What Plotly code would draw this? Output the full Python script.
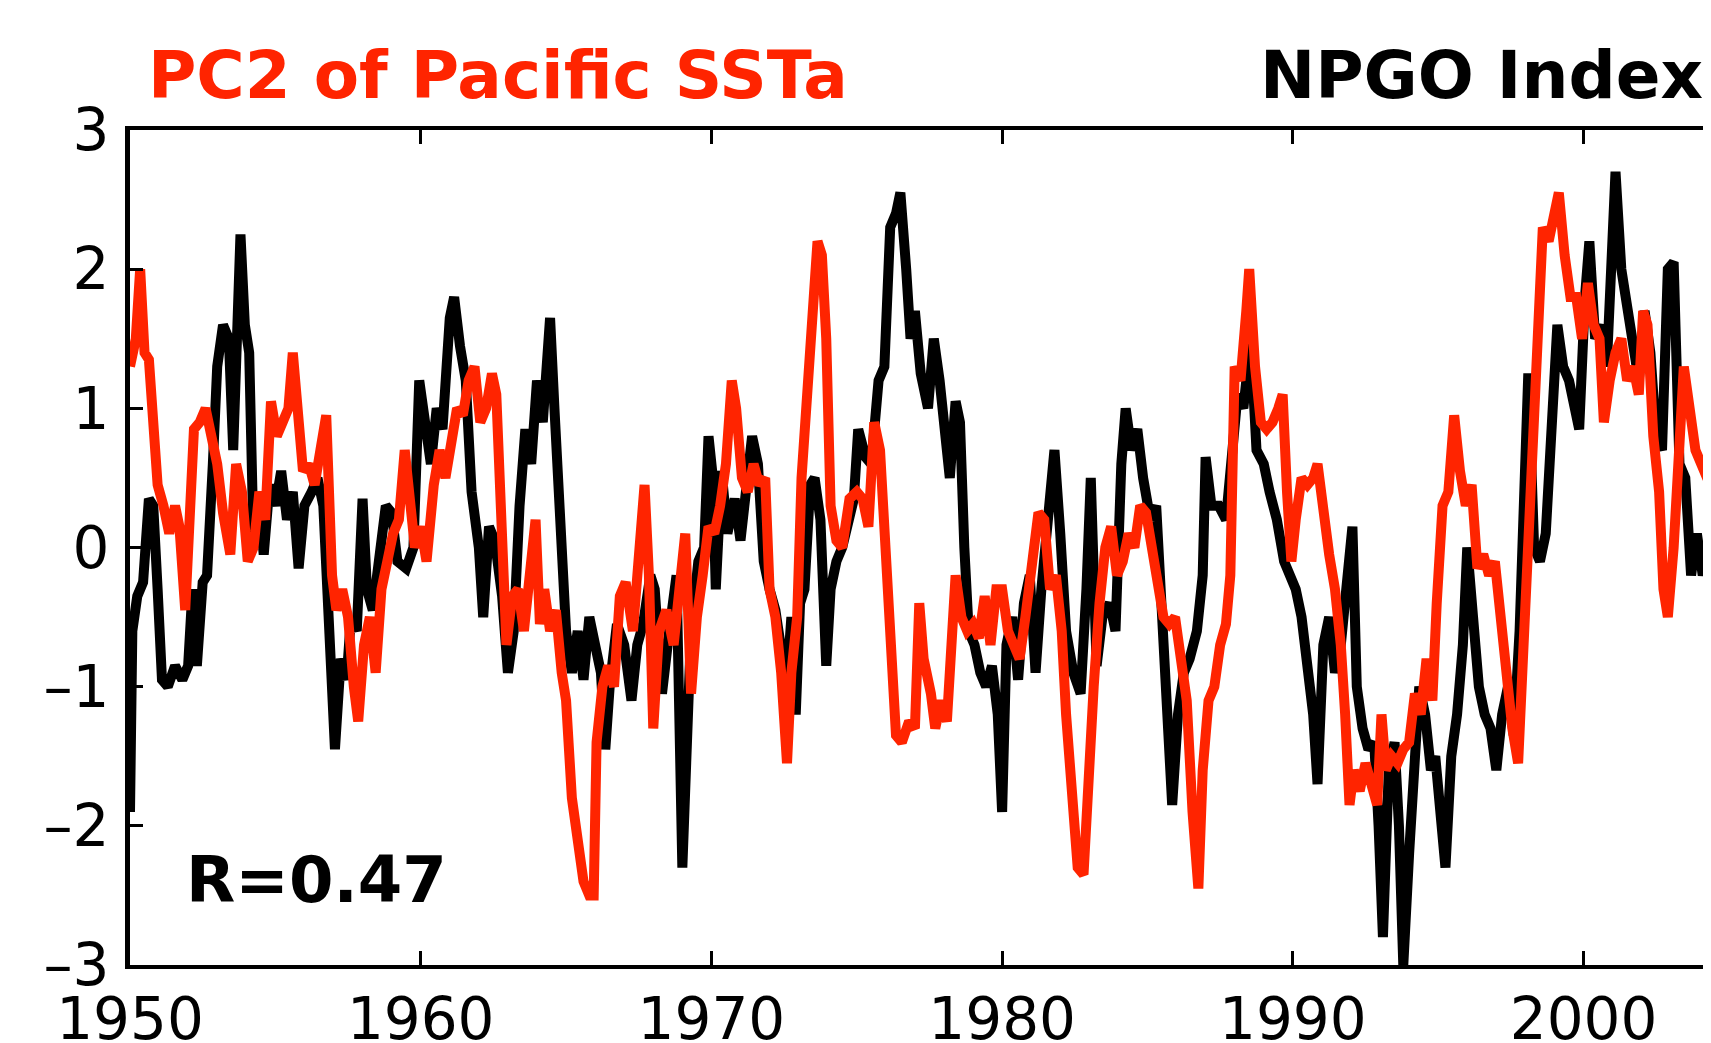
import plotly.graph_objects as go

# NPGO index (black)
npgo_years = [1950.00, 1950.08, 1950.25, 1950.45, 1950.65, 1950.8, 1950.95, 1951.1, 1951.3, 1951.55,
              1951.8, 1952.0, 1952.15, 1952.3, 1952.5, 1952.65, 1952.85, 1953.0, 1953.2, 1953.4,
              1953.55, 1953.7, 1953.8, 1953.95, 1954.1, 1954.25, 1954.45, 1954.6, 1954.8, 1955.0,
              1955.2, 1955.4, 1955.6, 1955.8, 1956.0, 1956.25, 1956.45, 1956.65, 1956.85, 1957.05,
              1957.25, 1957.45, 1957.6, 1957.8, 1958.0, 1958.15, 1958.35, 1958.6, 1958.8, 1959.0,
              1959.2, 1959.5, 1959.75, 1959.95, 1960.15, 1960.35, 1960.55, 1960.75, 1961.0, 1961.15,
              1961.35, 1961.55, 1961.75, 1962.0, 1962.15, 1962.35, 1962.55, 1962.8, 1963.0, 1963.2,
              1963.4, 1963.6, 1963.8, 1964.0, 1964.2, 1964.45, 1964.6, 1964.8, 1965.0, 1965.2,
              1965.4, 1965.6, 1965.8, 1966.0, 1966.2, 1966.35, 1966.5, 1966.75, 1967.0, 1967.25,
              1967.45, 1967.65, 1967.9, 1968.05, 1968.3, 1968.55, 1968.8, 1969.0, 1969.15, 1969.3,
              1969.55, 1969.75, 1969.9, 1970.05, 1970.15, 1970.35, 1970.55, 1970.8, 1971.0, 1971.2,
              1971.4, 1971.6, 1971.8, 1972.0, 1972.2, 1972.45, 1972.6, 1972.75, 1972.9, 1973.05,
              1973.2, 1973.4, 1973.55, 1973.75, 1973.95, 1974.1, 1974.3, 1974.5, 1974.7, 1974.9,
              1975.05, 1975.3, 1975.5, 1975.75, 1975.95, 1976.15, 1976.35, 1976.5, 1976.7, 1976.85,
              1977.0, 1977.2, 1977.45, 1977.65, 1977.85, 1978.0, 1978.2, 1978.4, 1978.55, 1978.7,
              1978.85, 1979.05, 1979.25, 1979.45, 1979.65, 1979.85, 1980.0, 1980.15, 1980.35, 1980.55,
              1980.75, 1980.95, 1981.15, 1981.35, 1981.55, 1981.8, 1982.0, 1982.2, 1982.45, 1982.7,
              1982.9, 1983.05, 1983.25, 1983.45, 1983.7, 1983.9, 1984.1, 1984.25, 1984.45, 1984.65,
              1984.85, 1985.1, 1985.3, 1985.5, 1985.7, 1985.85, 1986.05, 1986.25, 1986.45, 1986.7,
              1986.9, 1987.0, 1987.2, 1987.45, 1987.7, 1987.9, 1988.1, 1988.3, 1988.55, 1988.75,
              1989.0, 1989.2, 1989.45, 1989.7, 1989.9, 1990.1, 1990.3, 1990.5, 1990.7, 1990.85,
              1991.05, 1991.25, 1991.45, 1991.65, 1991.85, 1992.05, 1992.2, 1992.4, 1992.6, 1992.8,
              1992.95, 1993.1, 1993.3, 1993.5, 1993.65, 1993.8, 1994.0, 1994.2, 1994.35, 1994.55,
              1994.75, 1994.9, 1995.1, 1995.25, 1995.45, 1995.65, 1995.85, 1996.0, 1996.2, 1996.4,
              1996.6, 1996.8, 1997.0, 1997.2, 1997.4, 1997.6, 1997.8, 1997.95, 1998.1, 1998.3,
              1998.5, 1998.7, 1998.9, 1999.1, 1999.3, 1999.5, 1999.7, 1999.85, 2000.05, 2000.2,
              2000.4, 2000.6, 2000.8, 2001.0, 2001.1, 2001.3, 2001.5, 2001.7, 2001.9, 2002.1,
              2002.3, 2002.5, 2002.7, 2002.9, 2003.1, 2003.3, 2003.5, 2003.7, 2003.9, 2004.1,
              2004.3, 2004.5, 2004.75]
npgo_values = [-1.9, -0.6, -0.35, -0.25, 0.35, 0.3, -0.3, -0.95, -1.0, -0.85,
               -0.95, -0.85, -0.3, -0.85, -0.25, -0.2, 0.6, 1.3, 1.6, 1.5,
               0.7, 1.5, 2.25, 1.6, 1.4, 0.05, 0.3, -0.05, 0.45, 0.3,
               0.55, 0.2, 0.4, -0.15, 0.3, 0.4, 0.5, 0.3, -0.5, -1.45,
               -0.8, -0.95, -0.5, -0.6, 0.35, -0.3, -0.45, -0.1, 0.3, 0.25,
               -0.1, -0.15, 0.0, 1.2, 0.85, 0.6, 1.0, 0.85, 1.65, 1.8,
               1.45, 1.2, 0.4, 0.0, -0.5, 0.15, 0.05, -0.35, -0.9, -0.6,
               0.3, 0.85, 0.6, 1.2, 0.9, 1.65, 1.0, 0.0, -0.6, -0.9,
               -0.6, -0.95, -0.5, -0.7, -0.9, -1.45, -1.0, -0.55, -0.7, -1.1,
               -0.7, -0.55, -0.2, -0.3, -1.05, -0.6, -0.2, -2.3, -1.6, -0.6,
               -0.1, 0.0, 0.8, 0.5, -0.3, 0.55, 0.1, 0.35, 0.05, 0.45,
               0.8, 0.6, -0.1, -0.3, -0.45, -0.8, -0.95, -0.5, -1.2, -0.4,
               -0.3, 0.45, 0.5, 0.2, -0.85, -0.3, -0.1, 0.0, 0.2, 0.35,
               0.85, 0.65, 0.6, 1.2, 1.3, 2.3, 2.4, 2.55, 2.0, 1.5,
               1.7, 1.25, 1.0, 1.5, 1.2, 0.9, 0.5, 1.05, 0.9, 0.0,
               -0.6, -0.7, -0.9, -1.0, -0.85, -1.2, -1.9, -0.7, -0.5, -0.95,
               -0.4, -0.2, -0.9, -0.3, 0.2, 0.7, 0.1, -0.6, -0.9, -1.05,
               -0.3, 0.5, -0.85, -0.5, -0.4, -0.6, 0.6, 1.0, 0.7, 0.85,
               0.5, 0.2, 0.3, -0.6, -1.5, -1.85, -1.2, -0.9, -0.8, -0.6,
               -0.2, 0.65, 0.3, 0.3, 0.2, 0.6, 1.1, 1.0, 1.5, 0.7,
               0.6, 0.4, 0.2, -0.1, -0.2, -0.3, -0.5, -0.8, -1.2, -1.7,
               -0.7, -0.5, -0.9, -0.7, -0.3, 0.15, -1.0, -1.3, -1.45, -1.4,
               -2.0, -2.8, -1.6, -1.4, -2.0, -3.0, -2.2, -1.5, -1.0, -1.2,
               -1.6, -1.5, -2.1, -2.3, -1.5, -1.2, -0.7, 0.0, -0.5, -1.0,
               -1.2, -1.3, -1.6, -1.2, -1.0, -1.35, -0.6, 0.2, 1.25, 0.0,
               -0.1, 0.1, 1.0, 1.6, 1.3, 1.2, 1.0, 0.85, 1.8, 2.2,
               1.5, 1.6, 1.3, 2.2, 2.7, 2.0, 1.7, 1.4, 1.2, 1.7,
               1.4, 0.8, 0.7, 2.0, 2.05, 0.6, 0.5, -0.2, 0.1, -0.2,
               0.0, -0.1, -0.05]

# PC2 of Pacific SSTa (red)
pc2_years = [1950.0, 1950.2, 1950.35, 1950.5, 1950.65, 1950.8, 1950.95, 1951.15, 1951.35, 1951.55,
             1951.7, 1951.9, 1952.05, 1952.2, 1952.4, 1952.6, 1952.8, 1953.0, 1953.2, 1953.45,
             1953.65, 1953.85, 1954.05, 1954.25, 1954.45, 1954.65, 1954.85, 1955.05, 1955.25, 1955.45,
             1955.6, 1955.75, 1955.95, 1956.15, 1956.35, 1956.55, 1956.75, 1956.95, 1957.1, 1957.3,
             1957.5, 1957.7, 1957.85, 1958.05, 1958.25, 1958.45, 1958.65, 1958.85, 1959.05, 1959.25,
             1959.45, 1959.6, 1959.8, 1960.0, 1960.2, 1960.45, 1960.65, 1960.85, 1961.05, 1961.25,
             1961.45, 1961.65, 1961.85, 1962.05, 1962.25, 1962.45, 1962.6, 1962.8, 1962.95, 1963.15,
             1963.35, 1963.55, 1963.75, 1963.95, 1964.1, 1964.25, 1964.45, 1964.65, 1964.85, 1965.0,
             1965.2, 1965.4, 1965.6, 1965.8, 1965.95, 1966.05, 1966.25, 1966.45, 1966.65, 1966.85,
             1967.05, 1967.3, 1967.5, 1967.7, 1967.85, 1968.0, 1968.2, 1968.45, 1968.7, 1968.9,
             1969.1, 1969.3, 1969.5, 1969.7, 1969.9, 1970.1, 1970.3, 1970.5, 1970.7, 1970.85,
             1971.05, 1971.25, 1971.45, 1971.65, 1971.85, 1972.0, 1972.2, 1972.4, 1972.6, 1972.75,
             1972.95, 1973.1, 1973.3, 1973.5, 1973.65, 1973.8, 1973.95, 1974.1, 1974.3, 1974.5,
             1974.75, 1975.0, 1975.2, 1975.4, 1975.6, 1975.8, 1975.95, 1976.15, 1976.35, 1976.55,
             1976.8, 1977.0, 1977.15, 1977.3, 1977.55, 1977.7, 1977.9, 1978.1, 1978.25, 1978.4,
             1978.6, 1978.8, 1979.0, 1979.2, 1979.4, 1979.6, 1979.8, 1980.0, 1980.2, 1980.4,
             1980.6, 1980.8, 1981.0, 1981.25, 1981.45, 1981.65, 1981.85, 1982.05, 1982.2, 1982.4,
             1982.6, 1982.8, 1982.95, 1983.15, 1983.35, 1983.55, 1983.75, 1983.95, 1984.15, 1984.35,
             1984.55, 1984.75, 1984.95, 1985.15, 1985.35, 1985.55, 1985.75, 1985.95, 1986.15, 1986.35,
             1986.55, 1986.75, 1986.9, 1987.1, 1987.3, 1987.5, 1987.7, 1987.85, 1988.0, 1988.2,
             1988.4, 1988.5, 1988.7, 1988.9, 1989.1, 1989.3, 1989.5, 1989.65, 1989.8, 1989.95,
             1990.1, 1990.3, 1990.5, 1990.7, 1990.85, 1991.05, 1991.25, 1991.45, 1991.65, 1991.8,
             1991.95, 1992.1, 1992.3, 1992.5, 1992.7, 1992.9, 1993.05, 1993.2, 1993.4, 1993.6,
             1993.8, 1994.0, 1994.2, 1994.4, 1994.6, 1994.8, 1994.95, 1995.15, 1995.35, 1995.55,
             1995.75, 1995.95, 1996.15, 1996.35, 1996.55, 1996.75, 1996.95, 1997.15, 1997.35, 1997.55,
             1997.75, 1997.95, 1998.1, 1998.3, 1998.5, 1998.6, 1998.8, 1999.0, 1999.15, 1999.35,
             1999.55, 1999.75, 1999.95, 2000.15, 2000.35, 2000.55, 2000.7, 2000.9, 2001.1, 2001.3,
             2001.5, 2001.7, 2001.9, 2002.05, 2002.2, 2002.4, 2002.6, 2002.75, 2002.9, 2003.1,
             2003.3, 2003.45, 2003.65, 2003.85, 2004.05, 2004.25, 2004.45, 2004.75]
pc2_values = [1.3, 1.5, 2.0, 1.4, 1.35, 0.85, 0.45, 0.3, 0.1, 0.3,
              0.15, -0.45, 0.2, 0.85, 0.9, 1.0, 0.8, 0.6, 0.25, -0.05,
              0.6, 0.4, -0.1, 0.0, 0.4, 0.2, 1.05, 0.8, 0.9, 1.0,
              1.4, 1.1, 0.55, 0.6, 0.45, 0.7, 0.95, -0.2, -0.45, -0.3,
              -0.5, -1.0, -1.25, -0.7, -0.5, -0.9, -0.3, -0.1, 0.1, 0.2,
              0.7, 0.4, 0.0, 0.15, -0.1, 0.45, 0.7, 0.5, 0.75, 1.0,
              0.95, 1.2, 1.3, 0.9, 1.0, 1.25, 1.1, 0.0, -0.7, -0.35,
              -0.3, -0.6, -0.2, 0.2, -0.55, -0.3, -0.6, -0.45, -0.9, -1.1,
              -1.8, -2.1, -2.4, -2.5, -2.5, -1.4, -1.0, -0.85, -1.0, -0.35,
              -0.25, -0.6, -0.1, 0.45, -0.2, -1.3, -0.6, -0.45, -0.7, -0.3,
              0.1, -1.05, -0.5, -0.2, 0.15, 0.1, 0.3, 0.6, 1.2, 1.0,
              0.5, 0.4, 0.6, 0.45, 0.5, -0.3, -0.5, -0.9, -1.55, -0.9,
              -0.5, 0.5, 1.2, 1.6, 2.2, 2.1, 1.5, 0.3, 0.05, 0.0,
              0.35, 0.4, 0.35, 0.15, 0.9, 0.7, 0.1, -0.6, -1.35, -1.4,
              -1.25, -1.3, -0.4, -0.8, -1.05, -1.3, -1.1, -1.25, -0.6, -0.2,
              -0.5, -0.6, -0.55, -0.65, -0.35, -0.7, -0.3, -0.3, -0.6, -0.7,
              -0.8, -0.5, -0.2, 0.25, 0.2, -0.3, -0.2, -0.6, -1.2, -1.8,
              -2.3, -2.35, -1.6, -1.0, -0.4, 0.0, 0.15, -0.2, -0.1, 0.1,
              0.0, 0.3, 0.25, 0.0, -0.3, -0.5, -0.55, -0.5, -0.8, -1.1,
              -1.9, -2.45, -1.6, -1.1, -1.0, -0.7, -0.55, -0.2, 1.3, 1.2,
              1.7, 2.0, 1.3, 0.9, 0.85, 0.9, 1.0, 1.1, 0.4, -0.1,
              0.2, 0.5, 0.45, 0.5, 0.6, 0.2, -0.05, -0.3, -0.7, -1.2,
              -1.85, -1.6, -1.75, -1.55, -1.7, -1.85, -1.2, -1.6, -1.5, -1.55,
              -1.45, -1.4, -1.05, -1.2, -0.8, -1.1, -0.4, 0.3, 0.4, 0.95,
              0.55, 0.3, 0.45, -0.15, -0.05, -0.2, -0.1, -0.5, -1.0, -1.3,
              -1.55, -0.6, 0.25, 0.85, 2.0, 2.3, 2.2, 2.4, 2.55, 2.1,
              1.8, 1.8, 1.5, 1.9, 1.6, 1.5, 0.9, 1.2, 1.4, 1.5,
              1.2, 1.3, 1.1, 1.7, 1.6, 0.8, 0.4, -0.3, -0.5, 0.0,
              0.8, 1.3, 1.0, 0.7, 0.6, 0.5, 0.45, 0.3]

x_ticks = [1950, 1960, 1970, 1980, 1990, 2000]
y_ticks = [-3, -2, -1, 0, 1, 2, 3]
y_tick_labels = ["\u20133", "\u20132", "\u20131", "0", "1", "2", "3"]
title_left = "PC2 of Pacific SSTa"
title_right = "NPGO Index"
corr_label = "R=0.47"

RED = "#FF2400"

fig = go.Figure()
fig.add_trace(go.Scatter(x=npgo_years, y=npgo_values, mode="lines",
                         line=dict(color="#000000", width=10), name=title_right))
fig.add_trace(go.Scatter(x=pc2_years, y=pc2_values, mode="lines",
                         line=dict(color=RED, width=10), name=title_left))

fig.update_layout(
    width=1711, height=1043,
    margin=dict(l=122, r=0, t=122, b=86, pad=0, autoexpand=False),
    plot_bgcolor="white", paper_bgcolor="white",
    showlegend=False,
    font=dict(family="DejaVu Sans", color="black"),
)
fig.update_xaxes(range=[1950, 2004.66], tickvals=x_ticks, ticks="inside", ticklen=14,
                 tickwidth=3, tickcolor="black", showline=True, linewidth=4,
                 linecolor="black", mirror="ticks", showgrid=False, zeroline=False,
                 automargin=False,
                 tickfont=dict(size=58, family="DejaVu Sans", color="black"),
                 ticklabelstandoff=0)
fig.update_yaxes(range=[-3, 3], tickvals=y_ticks, ticktext=y_tick_labels, ticks="inside",
                 ticklen=13, tickwidth=3, tickcolor="black", showline=True, linewidth=5,
                 linecolor="black", mirror=False, showgrid=False, zeroline=False,
                 automargin=False,
                 tickfont=dict(size=58, family="DejaVu Sans", color="black"),
                 ticklabelstandoff=4)

fig.add_annotation(text="<b>" + title_left + "</b>", xref="paper", yref="paper",
                   x=0.0098, y=1.0655, xanchor="left", yanchor="middle", showarrow=False,
                   font=dict(size=66, family="DejaVu Sans", color=RED))
fig.add_annotation(text="<b>" + title_right + "</b>", xref="paper", yref="paper",
                   x=0.9912, y=1.0655, xanchor="right", yanchor="middle", showarrow=False,
                   font=dict(size=66, family="DejaVu Sans", color="black"))
fig.add_annotation(text="<b>" + corr_label + "</b>", xref="paper", yref="paper",
                   x=0.034, y=0.1023, xanchor="left", yanchor="middle", showarrow=False,
                   font=dict(size=64, family="DejaVu Sans", color="black"))

fig.write_html("out.html")
